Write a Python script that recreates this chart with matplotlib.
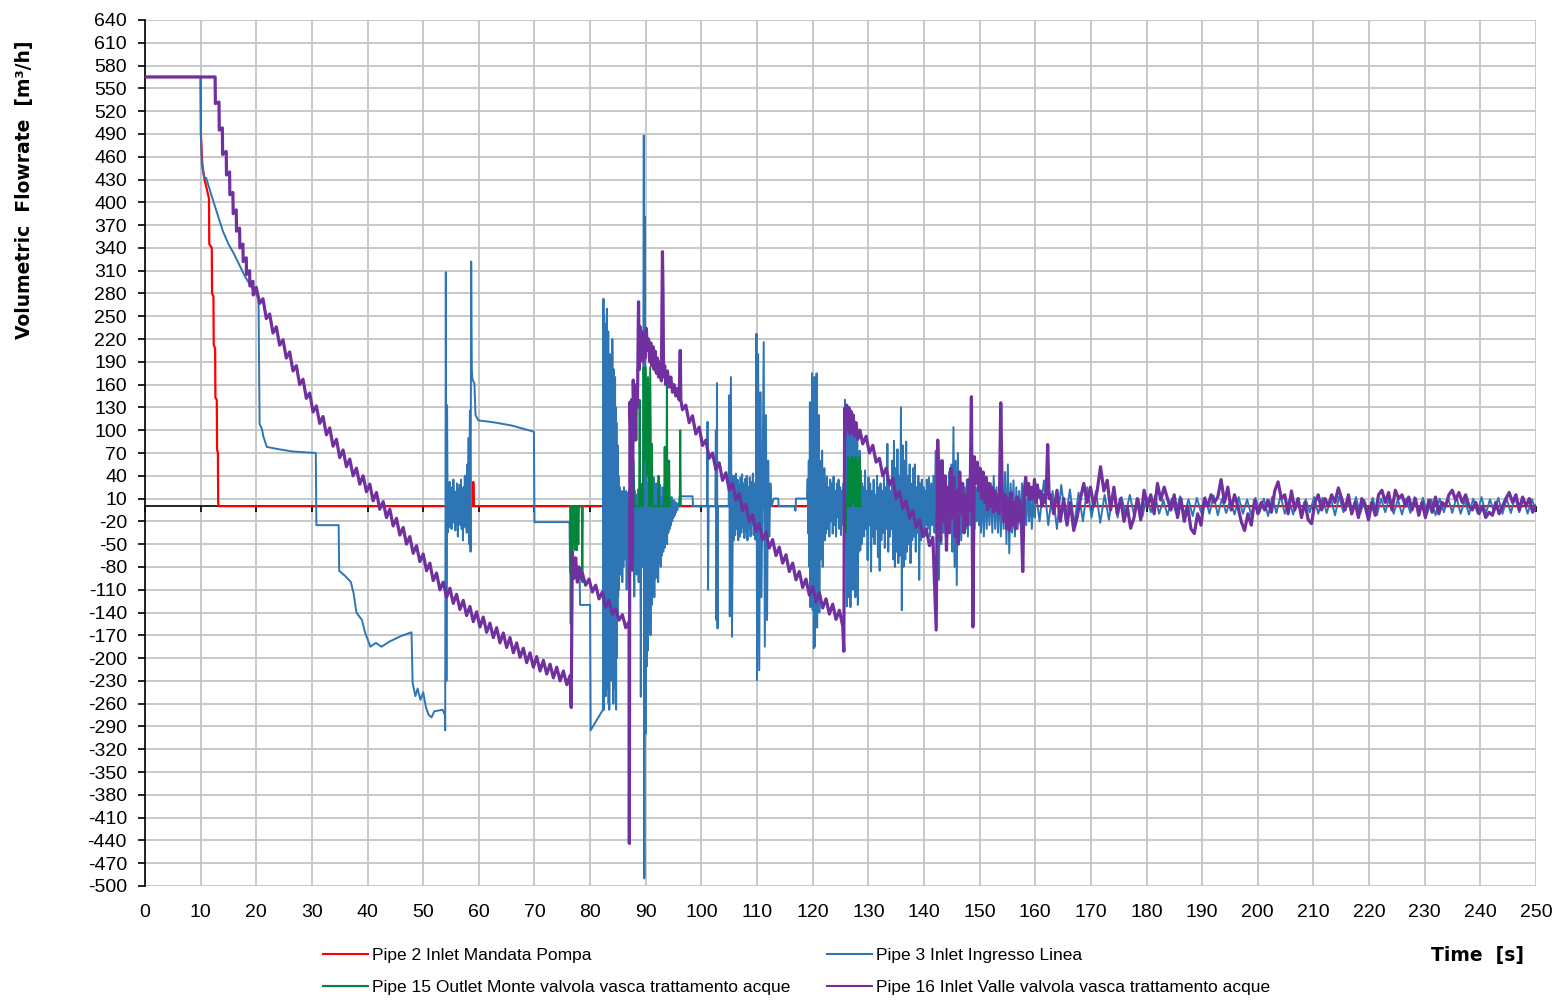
import numpy as np
import matplotlib
matplotlib.use('Agg')
import matplotlib.pyplot as plt
from matplotlib.lines import Line2D

# ---- data (time [s], flowrate [m3/h]) ----
RED_T = [0, 10, 10.05, 10.3, 10.7, 11.5, 11.55, 12.0, 12.05, 12.3, 12.35, 12.6, 12.65,
         12.9, 12.95, 13.1, 13.15, 13.3, 58.95, 59.0, 59.1, 110.95, 111.0, 111.1, 250]
RED_V = [565, 565, 490, 450, 430, 405, 345, 340, 280, 276, 212, 208, 143,
         140, 74, 71, 4, 0, 0, 32, 0, 0, 26, 0, 0]

BLUE_T_START = [0, 10, 10.05, 10.2, 10.6, 11, 12, 13, 14, 15, 16, 17, 18, 19,
                20.4, 20.6, 21.0, 21.3, 21.9, 24, 26.5, 30.7, 30.8, 34.8, 34.9, 36, 37,
                37.5, 38, 39, 39.5, 40.5, 41.5, 42.5, 44, 46, 47.9, 48.1, 48.6, 49,
                49.5, 50, 50.5, 51, 51.5, 52, 53.5, 53.9]
BLUE_V_START = [565, 565, 486, 451, 433, 432, 408, 385, 362, 345, 332, 317, 302, 290,
                274, 108, 102, 91, 78, 75, 72, 70, -25, -25, -85, -92, -100,
                -115, -140, -150, -165, -185, -180, -185, -178, -171, -166, -233, -250, -240,
                -255, -245, -265, -275, -278, -270, -268, -275]
BLUE_NOISE_54 = [-295, 308, -230, 133, -35, 28, -20, 32, -28, 18, -30, 25, -15, 35, -22,
                 20, -32, 15, -25, 30, -40, 22, -18, 28, -25, 35, -30, 20, -45, 25,
                 -20, 40, -28, 22, -35, 55, -15, 90, -50, 126, -60, 322, 180, 166]
BLUE_T_MID = [58.9, 59.2, 59.4, 59.9, 63, 66, 69.9, 70.0, 76.3, 76.4, 78.1, 78.2, 80.0, 80.1, 82.3]
BLUE_V_MID = [166, 162, 120, 113, 110, 106, 98, -21, -21, -88, -88, -130, -130, -295, -268]
BLUE_BURST_82 = [273, -268, 250, -240, 240, -229, 200, -250, 225, -207, 260, -220, 210,
                 -240, 230, -260, 150, -268, 188, -215, 200, -190, 120, -230, 200, -180,
                 220, -210, 160, -260, 180, -240, 90, -200, 170, -150, 130, -268, 110,
                 -200, 60, -150, 80, -120, 40]
BLUE_BURST_85 = [-110, 25, -90, 15, -60, 20, -100, 10, -80, 25, -40, 15, -70, 20, -110,
                 5, -50, 18, -95, 22, -120, 10, -65, 15, -85, 25, -45, 12, -119, 20,
                 -70, 8, -90, 15, -55, 22, -100, 10, -75, 18, -251, 12, -60, 25, -80]
BLUE_T_SPIKE90 = [89.65, 89.75, 89.85, 89.95]
BLUE_V_SPIKE90 = [488, -490, 381, -300]
BLUE_BURST_90 = [40, -211, 30, -190, 43, -159, 25, -170, 35, -130, 20, -110, 38, -120,
                 15, -95, 30, -84, 22, -100, 18, -75, 28, -80, 12, -65, 25, -60, 10,
                 -55, 20, -45, 15, -50, 8, -35, 18, -30, 10, -25, 12, -20, 6, -15, 8,
                 -12, 5, -8, 4, -5, 2, 0]
BLUE_T_QUIET = [96.0, 96.1, 98.4, 98.5, 101.0, 101.1, 101.2, 101.3, 102.5, 102.6, 102.7,
                102.8, 102.9, 103.0, 104.9, 105.0, 105.1, 105.3, 105.5, 105.7]
BLUE_V_QUIET = [2, 13, 13, 0, 0, 111, -110, 0, 0, 100, -150,
                162, -161, 0, 0, 146, -145, 170, -172, 40]
BLUE_NOISE_106 = [-45, 40, -38, 43, -30, 35, -45, 28, -40, 38, -35, 42, -28, 30, -42,
                  36, -33, 40, -45, 25, -30, 38, -40, 32, -25, 43, -38, 30, -44, 35]
BLUE_T_SPIKES = [109.9, 110.0, 110.2, 110.4, 110.6, 110.8, 111.2, 111.4, 111.6, 111.8,
                 112.0, 112.2, 112.4, 112.6, 113.0, 113.8, 113.9, 116.8, 116.9, 117.0, 119.0]
BLUE_V_SPIKES = [227, -229, 200, -216, 150, -120, 216, -185, 120, -150,
                 60, -40, 30, 0, 10, 10, 0, 0, -6, 10, 10]
BLUE_BURST_119 = [36, -36, 60, -80, 137, -133, 90, -60, 175, -137, 131, -187, 170, -185,
                  150, -120, 175, -160, 80, -90, 120, -140, 60, -70, 40, -50, 73, -80,
                  36, -36, 50, -45, 30]
BLUE_NOISE_122 = [-36, 39, -30, 25, -40, 35, -20, 30, -36, 39, -25, 20, -40, 30, -15, 35,
                  -30, 25, -38, 20, -25, 30, -20]
BLUE_BURST_126 = [140, -34, 96, -132, 122, -120, 80, -100, 110, -133, 60, -90, 122, -110,
                  70, -80, 100, -120, 50, -70, 90, -130, 40, -60, 73, -58, 47, -50, 30, -40]
BLUE_NOISE_129 = [25, -40, 47, -30, 20, -71, 38, -25, 30, -86, 20, -40, 35, -50, 15, -30,
                  40, -67, 25, -85, 30, -45, 20, -35, 38, -55, 25, -30, 82, -60, 30, -40,
                  20, -30]
BLUE_NOISE_134 = [60, -70, 86, -80, 50, -60, 75, -75, 40, -65, 130, -137, 80, -80, 60, -70,
                  85, -60, 40, -50, 55, -75, 30, -45, 50, -40, 55, -60, 25, -35, 40, -97,
                  30, -45, 35, -30, 25, -40, 20, -25]
BLUE_NOISE_140 = [35, -30, 38, -40, 30, -25, 40, -35, 73, -45, 50, -97, 60, -50, 30, -35,
                  25, -40, 20, -30, 45, -35, 55, -60, 104, -80, 60, -104, 70, -50, 40, -45,
                  30, -35, 25, -30, 35, -40, 30, -25, 20, -30, 35, -30, 25, -20, 30, -25]
BLUE_NOISE_150 = [30, -35, 25, -40, 35, -30, 20, -25, 30, -35, 40, -30, 25, -35, 30, -40,
                  20, -30, 45, -50, 55, -62, 30, -35, 34, -40, 25, -30, 20, -25, 30, -20,
                  15, -25, 25, -20, 15, -30, 20, -15]
BLUE_TAIL_160 = [25, -20, 34, -25, 20, -30, 28, -18, 22, -25, 18, -20, 25, -15, 20, -22,
                 15, -18, 20, -15]
BLUE_TAIL_175 = [12, -10, 15, -12, 10, -14, 12, -8, 14, -10, 8, -12, 10, -9, 13, -11, 9, -13,
                 11, -8, 12, -10, 14, -12, 10, -9, 8, -11, 12, -10, 9, -12, 11, -8, 10, -13,
                 12, -9, 14, -10, 8, -11, 10, -12, 9, -8, 12, -10, 11, -9, 10, -12, 13, -8,
                 9, -11, 12, -10, 8, -9, 11, -12, 10, -8, 12, -10, 9, -11, 10, -9, 12, -8,
                 11, -10, 9, -12, 10, -8, 11, -9, 12, -10, 8, -11, 10, -9, 12, -10, 9, -8,
                 11, -10, 10, -9, 12, -8, 10, -10, 9, -5]

GREEN_BLOCK_77 = [0, -155, 0, -58, 0, -50, 0, -58, -10, -55, 0, -58, 0, -50, 0]
GREEN_T_78 = [78.5, 78.6, 78.7]
GREEN_V_78 = [0, -100, 0]
GREEN_T_88 = [87.6, 87.8, 88.0, 88.8, 88.9, 89.0, 89.3, 89.4, 89.5, 89.6, 89.8, 90.0, 90.2,
              90.4, 90.6, 90.8, 91.0, 91.1, 91.2, 92.2, 92.3, 92.4, 93.3, 93.4, 93.5, 93.7,
              93.8, 93.9, 94.1, 94.2, 94.3]
GREEN_V_88 = [0, 60, 0, 0, 140, 0, 0, 30, 0, 183, 60, 183, 40,
              170, 0, 183, 0, 82, 0, 0, 40, 0, 0, 78, 0, 0,
              157, 0, 0, 60, 0]
GREEN_T_96 = [96.1, 96.2, 96.3]
GREEN_V_96 = [0, 100, 0]
GREEN_T_126 = [125.8, 125.9, 126.0]
GREEN_V_126 = [0, -34, 0]
GREEN_BLOCK_127 = [0, 65, 0, 60, 0, 65, 5, 62, 0, 65, 0, 58, 0, 65, 0]

PURPLE_T_START = [0, 12.6, 12.65, 13.3, 13.35, 13.9, 13.95, 14.6, 14.65, 15.2, 15.25, 15.8,
                  15.85, 16.4, 16.45, 17.0, 17.05, 17.6, 17.65, 18.2, 18.25, 18.8, 18.85,
                  19.4, 19.45]
PURPLE_V_START = [565, 565, 530, 532, 495, 498, 463, 467, 436, 440, 410, 413,
                  385, 390, 362, 366, 340, 345, 322, 327, 305, 310, 290,
                  296, 278]
PURPLE_SAW_20 = [288, 267, 273, 247, 253, 228, 236, 212, 219, 195, 203, 178, 185, 160, 167,
                 142, 149, 124, 132, 109, 118, 94, 103, 79, 88, 64, 74, 52, 62, 40, 50, 29,
                 40, 19, 29, 7, 18, -4, 6, -15, -4, -26, -16, -38, -28, -50, -40, -62, -52,
                 -73, -63, -85, -75, -98, -88, -110, -100, -120, -108, -128, -116, -136,
                 -124, -144, -132, -152, -139, -159, -146, -166, -154, -173, -160, -180,
                 -167, -186, -173, -193, -180, -199, -187, -206, -193, -212, -198, -217,
                 -203, -221, -208, -226, -212, -230, -217, -235, -223]
PURPLE_T_DIP = [76.6, 76.8, 77.1, 77.4, 77.7, 78.0, 78.3]
PURPLE_V_DIP = [-265, -60, -95, -68, -100, -80, -95]
PURPLE_SAW_79 = [-88, -104, -96, -113, -104, -122, -113, -133, -124, -142, -135, -150,
                 -143, -160, -152]
PURPLE_T_PEAK = [87.05, 87.15, 87.3, 87.45, 87.6, 87.75, 87.9, 88.05, 88.2, 88.35, 88.5,
                 88.7, 88.85, 89.0, 89.15, 89.3, 89.5, 89.7, 89.9, 90.1, 90.3, 90.5, 90.7,
                 90.9, 91.1, 91.3, 91.5, 91.7, 91.9, 92.1, 92.3, 92.6, 92.8, 93.0, 93.1,
                 93.2, 93.4, 93.6, 93.9, 94.2, 94.5, 94.8, 95.1, 95.4, 95.7, 96.0, 96.2, 96.3]
PURPLE_V_PEAK = [-444, 137, 100, 140, -84, 166, 110, 150, 87, 160, 130,
                 269, 180, 236, 200, 230, 190, 225, 195, 234, 205, 220, 190,
                 215, 185, 210, 180, 204, 175, 195, 170, 190, 165, 335, 282,
                 170, 185, 160, 178, 157, 170, 150, 160, 145, 155, 140, 205, 140]
PURPLE_SAW_97 = [127, 133, 110, 119, 95, 104, 80, 87, 63, 70, 48, 57, 34, 44, 21, 30, 8, 17,
                 -6, 3, -20, -11, -33, -23, -44, -34, -55, -44, -65, -54, -75, -64, -86,
                 -75, -97, -86, -107, -96, -117, -106, -126, -114, -134, -122, -142, -129,
                 -149, -137, -158]
PURPLE_T_JUMP = [125.6, 125.75, 125.9, 126.1, 126.3, 126.5, 126.7, 126.9, 127.1, 127.3,
                 127.5, 127.8, 128.1, 128.5]
PURPLE_V_JUMP = [-191, 129, 96, 133, 100, 130, 95, 125, 98, 120, 92, 110, 88, 100]
PURPLE_SAW_129 = [82, 92, 70, 80, 58, 63, 40, 50, 28, 37, 10, 20, -3, 7, -16, -6, -28, -18,
                  -40, -30, -52, -41]
PURPLE_DECAY = [-163, 87,
                30, -45, 60, -20, 40, -58, 25, -35, 50, -15, 38, -40, 20, -50, 45, -10, 30,
                -35, 15, -25, 35, -5,
                144, -159,
                65, 30, 58, 20, 50, 10, 45, 5, 38, -5, 30, 0, 25, -8, 20, -5, 15, -10,
                136,
                21, -20, 15, -30, 10, -32, 18, -25, 5, -30, 12, -20, 8, -15,
                -86,
                20, 38, 15, 30, 8, 25, 10, 35, 5, 28, 12, 20, 0, 15, 5, 18,
                81, 10]
PURPLE_TAIL = [15, -10, 21, -20, 10, -25, 5, -32, -15,
               10, 30, 5, 25, 0, 20,
               52,
               20, 34, -5, 25, -10, 10, -20, -1, -29, -15,
               10, -18, 21, 0, 15, -10, 30, 8, 25, 10,
               -5, 15, -15, 10, -20, 0, -30, -36, -10, -25,
               10, 0, 15, 5, 12, 35, 5, 25, -5, 15, 0,
               -20, -32, -10, -25,
               8, -10, 5, -5, 8, -8,
               20, 32, 10,
               15, -10, 20, -5, 10, -15, 5, -18, -23,
               5, 15, -5, 10, 0, 15, 5, 24,
               10, -5, 15, -10, 5, -15, 10, 0, -18, 5, -12,
               15, 21, 5, 18, -5, 21, 10, 15, 0, 12,
               -5, 10, -12, 5, -15, 8, -8, 12, -10, 5, 0,
               15, 21, 8, 18, 5, 15, 0,
               -5, 5, -10, 0, -15, -8, -12, 5, -10, 0,
               10, 18, 5, 15, -5, 12, 0, 10, -8, 0]

LABELS = ["Pipe 2 Inlet Mandata Pompa", "Pipe 3 Inlet Ingresso Linea",
          "Pipe 15 Outlet Monte valvola vasca trattamento acque",
          "Pipe 16 Inlet Valle valvola vasca trattamento acque"]
COLORS = ["#ff0000", "#2e75b6", "#00873c", "#7030a0"]


def spread(t0, t1, values):
    # evenly spaced sample times for a run of read-off values
    return list(np.linspace(t0, t1, len(values))), list(values)


def join(pieces, gaps=False):
    t_all, v_all = [], []
    for t, v in pieces:
        if gaps and t_all:
            t_all.append(np.nan)
            v_all.append(np.nan)
        t_all += list(t)
        v_all += list(v)
    return np.array(t_all, dtype=float), np.array(v_all, dtype=float)


blue_t, blue_v = join([
    (BLUE_T_START, BLUE_V_START),
    spread(53.95, 58.85, BLUE_NOISE_54),
    (BLUE_T_MID, BLUE_V_MID),
    spread(82.4, 85.1, BLUE_BURST_82),
    spread(85.2, 89.5, BLUE_BURST_85),
    (BLUE_T_SPIKE90, BLUE_V_SPIKE90),
    spread(90.05, 95.9, BLUE_BURST_90),
    (BLUE_T_QUIET, BLUE_V_QUIET),
    spread(105.8, 109.8, BLUE_NOISE_106),
    (BLUE_T_SPIKES, BLUE_V_SPIKES),
    spread(119.1, 122.3, BLUE_BURST_119),
    spread(122.4, 125.7, BLUE_NOISE_122),
    spread(125.8, 129.0, BLUE_BURST_126),
    spread(129.1, 134.2, BLUE_NOISE_129),
    spread(134.3, 140.4, BLUE_NOISE_134),
    spread(140.5, 149.9, BLUE_NOISE_140),
    spread(150.0, 159.9, BLUE_NOISE_150),
    spread(160.0, 174.8, BLUE_TAIL_160),
    spread(175.5, 250.0, BLUE_TAIL_175),
])

green_t, green_v = join([
    spread(76.4, 78.0, GREEN_BLOCK_77),
    (GREEN_T_78, GREEN_V_78),
    (GREEN_T_88, GREEN_V_88),
    (GREEN_T_96, GREEN_V_96),
    (GREEN_T_126, GREEN_V_126),
    spread(126.2, 128.6, GREEN_BLOCK_127),
], gaps=True)

purple_t, purple_v = join([
    (PURPLE_T_START, PURPLE_V_START),
    spread(20.0, 76.4, PURPLE_SAW_20),
    (PURPLE_T_DIP, PURPLE_V_DIP),
    spread(78.6, 87.0, PURPLE_SAW_79),
    (PURPLE_T_PEAK, PURPLE_V_PEAK),
    spread(96.6, 125.4, PURPLE_SAW_97),
    (PURPLE_T_JUMP, PURPLE_V_JUMP),
    spread(129.0, 141.6, PURPLE_SAW_129),
    spread(142.2, 162.5, PURPLE_DECAY),
    spread(162.7, 250.0, PURPLE_TAIL),
])

# ---- figure ----
plt.rcParams['font.family'] = ['Liberation Sans', 'DejaVu Sans']
plt.rcParams['axes.unicode_minus'] = False
fig = plt.figure(figsize=(15.61, 10.0), dpi=100)
ax = fig.add_axes([145 / 1561, 1 - 886 / 1000, (1536 - 145) / 1561, (886 - 20) / 1000])

ax.axhline(0, color='black', linewidth=1.2, zorder=1)
ax.plot(RED_T, RED_V, color=COLORS[0], linewidth=1.6, zorder=2)
ax.plot(blue_t, blue_v, color=COLORS[1], linewidth=1.4, zorder=3)
ax.plot(green_t, green_v, color=COLORS[2], linewidth=1.4, zorder=4)
ax.plot(purple_t, purple_v, color=COLORS[3], linewidth=2.3, zorder=5)

ax.set_xlim(0, 250)
ax.set_ylim(-500, 640)
ax.set_xticks(range(0, 251, 10))
ax.set_yticks(range(-500, 641, 30))
ax.grid(color='#c4c4c4', linewidth=1.3)
ax.set_axisbelow(True)

for side in ('top', 'right'):
    ax.spines[side].set_visible(False)
ax.spines['left'].set_linewidth(1.2)
ax.spines['bottom'].set_position(('data', 0))
ax.spines['bottom'].set_visible(False)
ax.tick_params(axis='y', direction='out', length=5, width=1.2, pad=8, labelsize=14)
ax.tick_params(axis='x', direction='out', length=4, width=1.2, labelbottom=False)

sec = ax.secondary_xaxis('bottom')
sec.set_xticks(range(0, 251, 10))
sec.spines['bottom'].set_visible(False)
sec.tick_params(length=0, pad=13, labelsize=14)

fig.text(0.0155, 0.81, 'Volumetric  Flowrate  [m\u00b3/h]', rotation=90, ha='center',
         va='center', fontsize=13.5, fontweight='bold', family=['DejaVu Sans'])
fig.text(0.9468, 0.045, 'Time  [s]', ha='center', va='center', fontsize=13.5,
         fontweight='bold', family=['DejaVu Sans'])

handles = [Line2D([], [], color=c, linewidth=1.5) for c in COLORS]
order = [0, 2, 1, 3]
fig.legend([handles[i] for i in order], [LABELS[i] for i in order], ncol=2,
           loc='upper left', bbox_to_anchor=(307 / 1561, 1 - 932 / 1000), frameon=False,
           handlelength=2.6, handletextpad=0.25, columnspacing=2.1, labelspacing=1.0,
           prop={'family': ['Liberation Sans', 'DejaVu Sans'], 'size': 12.5})

fig.savefig('out.png', dpi=100)
